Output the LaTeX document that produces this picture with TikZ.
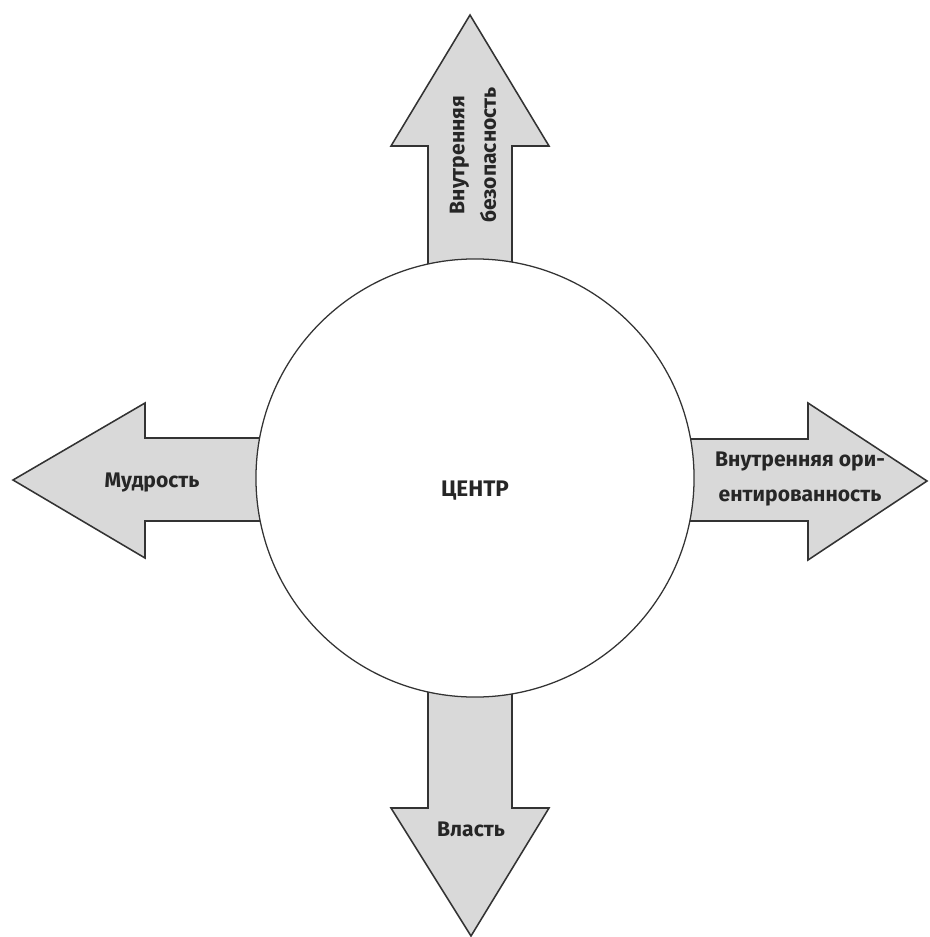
\documentclass[tikz,border=0pt]{standalone}
\usepackage{fontspec}
\setmainfont{Fira Sans}
\usepackage{tikz}

\definecolor{arrgray}{HTML}{D9D9D9}
\definecolor{linegray}{HTML}{333333}

\tikzset{
    arr/.style={draw=linegray, fill=arrgray, line width=1.1pt, line join=miter},
    lbl/.style={text=black!85, align=center, inner sep=0pt, font=\fontsize{15}{24}\selectfont\bfseries},
}

\begin{document}
\begin{tikzpicture}[x=0.025cm, y=-0.025cm]
    \useasboundingbox (0,0) rectangle (929,937);

    \coordinate (c) at (475,478);

    % arrows, drawn from the centre outwards
    \draw[arr] (428,478) -- (428,146) -- (391,146) -- (470,15) -- (549,146) -- (512,146) -- (512,478) -- cycle;
    \draw[arr] (475,438) -- (145,438) -- (145,403) -- (13,480) -- (145,558) -- (145,521) -- (475,521) -- cycle;
    \draw[arr] (475,439) -- (808,439) -- (808,403) -- (927,481) -- (808,560) -- (808,521) -- (475,521) -- cycle;
    \draw[arr] (428,478) -- (428,808) -- (391,808) -- (471,936) -- (549,808) -- (512,808) -- (512,478) -- cycle;

    \node[circle, draw=linegray, fill=white, line width=0.9pt, minimum size=10.95cm, inner sep=0pt] (centr) at (c) {};
    \node[lbl, font=\fontsize{16}{20}\selectfont\bfseries] (lcentr) at (475,491) {ЦЕНТР};

    \node[lbl, rotate=90, font=\fontsize{15}{22.5}\selectfont\bfseries] (lbez) at (473,155) {Внутренняя\\безопасность};
    \node[lbl] (lmud) at (152,483) {Мудрость};
    \node[lbl, font=\fontsize{15}{25}\selectfont\bfseries] (lori) at (800,479) {Внутренняя ори-\\ентированность};
    \node[lbl] (lvlast) at (471,829) {Власть};
\end{tikzpicture}
\end{document}
